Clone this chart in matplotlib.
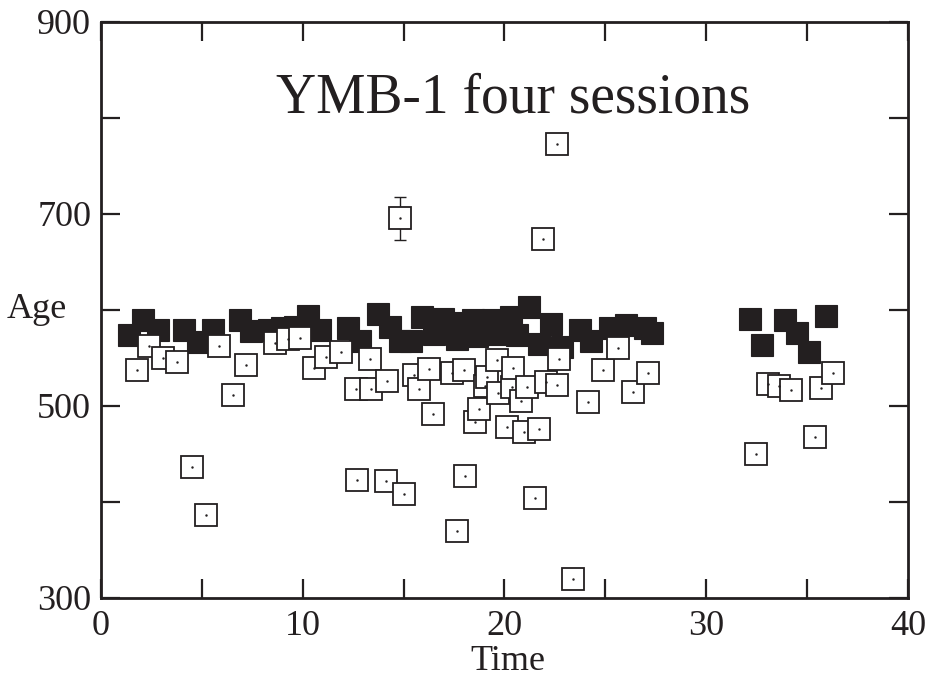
import matplotlib
matplotlib.use("Agg")
import matplotlib.pyplot as plt

# Open squares (individual analyses)
open_x = [1.77, 2.39, 3.07, 3.78, 4.52, 5.21, 5.86, 6.55, 7.21, 8.61,
          9.27, 9.85, 10.56, 11.17, 11.88, 12.62, 12.69, 13.32, 13.37, 14.12,
          14.19, 14.80, 15.00, 15.51, 15.76, 16.24, 16.47, 17.39, 17.66, 17.99,
          18.05, 18.55, 18.75, 19.04, 19.12, 19.65, 19.70, 20.13, 20.38, 20.41,
          20.83, 20.99, 21.14, 21.52, 21.73, 21.90, 22.05, 22.59, 22.61, 22.71,
          23.38, 24.12, 24.88, 25.61, 26.35, 27.10, 32.48, 33.07, 33.61, 34.19,
          35.40, 35.71, 36.26]
open_y = [537, 563, 550, 545.5, 436.8, 386, 563, 511, 542.7, 566,
          569.5, 570.5, 540, 550.7, 556, 518, 423, 548.6, 518, 421.5,
          525.7, 695.5, 408.3, 532, 517.7, 539, 492, 534.7, 370, 537,
          427, 483, 497, 521, 530, 548, 514, 478.5, 520, 540,
          505.5, 472.6, 520, 403.8, 476, 673.6, 525, 522, 772.9, 549.3,
          319.8, 503.8, 537.8, 560.4, 514.3, 534.7, 450, 523, 520.5, 516.7,
          467.7, 519, 534]

# point with an error bar
err_x = [14.80]
err_y = [695.5]
err_e = [22.5]

# Filled squares (session means)
filled_x = [1.39, 2.08, 2.82, 4.11, 4.80, 5.54, 6.88, 7.43, 8.32, 8.96,
            9.60, 10.25, 10.84, 12.23, 12.82, 13.71, 14.31, 14.80, 15.35, 15.89,
            16.49, 16.93, 17.62, 17.67, 18.42, 18.66, 19.41, 19.65, 20.30, 20.64,
            21.24, 21.73, 22.33, 22.87, 23.76, 24.31, 25.25, 26.04, 26.98, 27.33,
            32.18, 32.77, 33.91, 34.50, 35.10, 35.94]
filled_y = [574, 589.6, 579.2, 579.2, 566.7, 579.2, 589.6, 578.1, 579.2, 581.3,
            582.3, 593.8, 579.2, 581.3, 567.7, 595.8, 582.3, 567.7, 567.7, 592.7,
            575, 590.6, 586.5, 569.8, 589.6, 572.9, 589.6, 575, 592.7, 574,
            603.1, 564.6, 585.4, 561.5, 579.2, 567.7, 581.3, 584.4, 581.3, 576,
            590.8, 563.9, 590, 576.3, 556.6, 593.5]

x_ticks = [0, 5, 10, 15, 20, 25, 30, 35, 40]
x_labels = ["0", "", "10", "", "20", "", "30", "", "40"]
y_ticks = [300, 400, 500, 600, 700, 800, 900]
y_labels = ["300", "", "500", "", "700", "", "900"]

plt.rcParams['font.family'] = ['Liberation Serif', 'DejaVu Serif']

fig = plt.figure(figsize=(9.30, 6.79), dpi=100)
ax = fig.add_axes([0.1086, 0.1193, 0.8677, 0.8483])

ax.plot(filled_x, filled_y, linestyle='none', marker='s', ms=16.5,
        mfc='#231f20', mec='#231f20', mew=0.8, zorder=2)
ax.errorbar(err_x, err_y, yerr=err_e, fmt='none', ecolor='#231f20',
            elinewidth=1.0, capsize=4, capthick=1.0, zorder=2.5)
ax.plot(open_x, open_y, linestyle='none', marker='s', ms=15.2,
        mfc='white', mec='#231f20', mew=1.3, zorder=3)
ax.plot(open_x, open_y, linestyle='none', marker='.', ms=1.5,
        color='#231f20', zorder=4)

ax.set_xlim(0, 40)
ax.set_ylim(300, 900)
ax.set_xticks(x_ticks)
ax.set_xticklabels(x_labels)
ax.set_yticks(y_ticks)
ax.set_yticklabels(y_labels)
ax.tick_params(direction='in', length=14, width=1.6, top=True, right=True,
               labelsize=26, colors='#231f20')
ax.tick_params(axis='x', pad=9)
ax.tick_params(axis='y', pad=7)
for s in ax.spines.values():
    s.set_linewidth(2.0)
    s.set_color('#231f20')

fig.text(508 / 930, 1 - 662 / 679, 'Time', fontsize=26, color='#231f20',
         ha='center', va='center')
fig.text(37 / 930, 1 - 310 / 679, 'Age', fontsize=26, color='#231f20',
         ha='center', va='center')
ax.text(0.511, 0.868, 'YMB-1 four sessions', transform=ax.transAxes,
        fontsize=40, color='#231f20', ha='center', va='center')

fig.savefig('out.png', dpi=100)
